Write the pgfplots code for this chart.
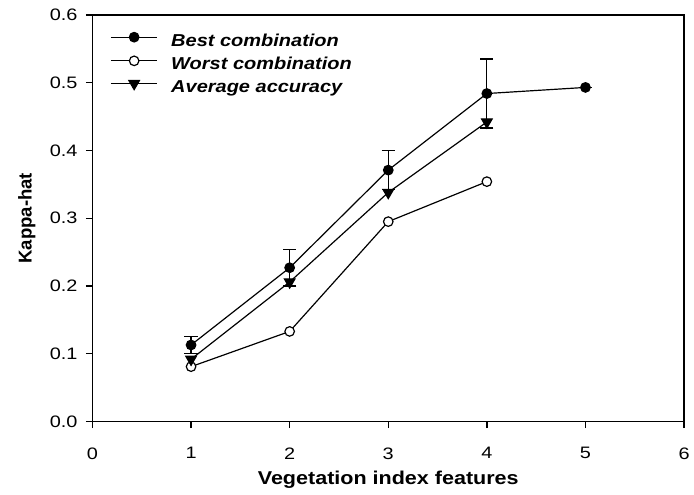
\documentclass[border=0pt]{standalone}
\usepackage{pgfplots}
\pgfplotsset{compat=1.18}
\usepackage{fontspec}
\setmainfont{Liberation Sans}[FakeStretch=1.16]
\newfontfamily\tickfont{Liberation Sans}[FakeStretch=1.2]
\newfontfamily\plainsf{Liberation Sans}
\begin{document}
\begin{tikzpicture}
\begin{axis}[
  scale only axis,
  width=446.25pt, height=306.75pt,
  xmin=0, xmax=6, ymin=0, ymax=0.6,
  axis line style={line width=1pt},
  xtick={0,1,2,3,4,5,6},
  ytick={0,0.1,0.2,0.3,0.4,0.5,0.6},
  /pgf/number format/assume math mode=true,
  xticklabel={\tickfont\fontsize{12.5}{15}\selectfont\pgfmathprintnumber{\tick}},
  yticklabel={\tickfont\fontsize{12.5}{15}\selectfont\pgfmathprintnumber[fixed,fixed zerofill,precision=1]{\tick}},
  xtick pos=bottom, ytick pos=left,
  yticklabel style={xshift=-2.8pt},
  xticklabel style={yshift=-11pt},
  tick align=outside,
  major tick length=5pt,
  tick style={line width=1pt, black},
  xlabel={\textbf{Vegetation index features}},
  ylabel={\plainsf\bfseries Kappa-hat},
  every axis x label/.style={at={(axis description cs:0.5,-0.143)}, anchor=center, font=\fontsize{14}{16}\selectfont},
  every axis y label/.style={at={(axis description cs:-0.1109,0.5)}, anchor=center, rotate=90, font=\fontsize{14}{16}\selectfont},
  legend style={draw=none, fill=none, at={(axis description cs:0.0298,0.9576)}, anchor=north west,
    inner sep=0pt, column sep=10pt, row sep=4.6pt,
    nodes={inner sep=0pt, text height=9.5pt, text depth=3pt},
    font=\fontsize{13}{15}\selectfont\bfseries\itshape},
  legend cell align=left,
  legend image code/.code={
    \draw[mark repeat=2, mark phase=2, #1] plot coordinates {(0pt,3.4pt) (17.5pt,3.4pt) (35pt,3.4pt)};
  },
]
\addplot[black, line width=0.9pt, mark=*, mark size=3.6pt,
  error bars/.cd, y dir=both, y explicit,
  error bar style={line width=0.9pt},
  error mark options={rotate=90, mark size=5pt, line width=0.9pt}]
  coordinates {
    (1,0.113) +- (0,0.012)
    (2,0.227) +- (0,0.027)
    (3,0.371) +- (0,0.029)
    (4,0.484) +- (0,0.051)
    (5,0.493) +- (0,0)
  };
\addlegendentry{Best combination}
\addplot[black, line width=0.9pt, mark=*, mark size=3.6pt, mark options={fill=white}]
  coordinates {(1,0.081) (2,0.133) (3,0.295) (4,0.354)};
\addlegendentry{Worst combination}
\addplot[black, line width=0.9pt, mark=triangle*, mark size=4.6pt, mark options={rotate=180}]
  coordinates {(1,0.092) (2,0.206) (3,0.338) (4,0.442)};
\addlegendentry{Average accuracy}
\end{axis}
\path ([xshift=-69.75pt,yshift=-54.75pt]current axis.south west) rectangle ([xshift=4.5pt,yshift=11.25pt]current axis.north east);
\end{tikzpicture}
\end{document}
